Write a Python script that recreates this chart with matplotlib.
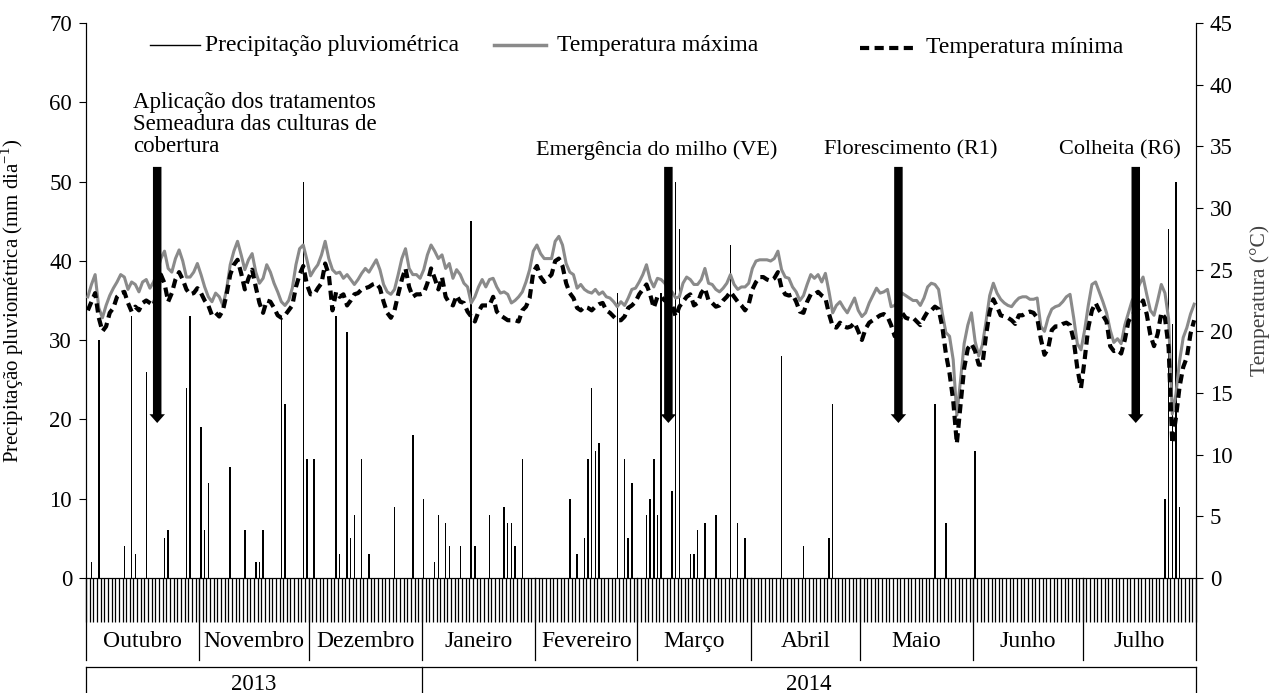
import numpy as np
import matplotlib.pyplot as plt
import matplotlib.transforms as mtransforms

plt.rcParams['font.family'] = ['Liberation Serif', 'DejaVu Serif']
plt.rcParams['mathtext.fontset'] = 'custom'
plt.rcParams['mathtext.rm'] = 'Liberation Serif'

# periodo: 01/10/2013 a 31/07/2014 (dia 0 = 01/10/2013)
meses = ['Outubro', 'Novembro', 'Dezembro', 'Janeiro', 'Fevereiro',
         'Março', 'Abril', 'Maio', 'Junho', 'Julho']
dias_mes = [31, 30, 31, 31, 28, 31, 30, 31, 30, 31]
anos = ['2013', '2014']
meses_por_ano = [3, 7]

# precipitacao (mm dia-1), somente dias com chuva
chuva_dia = [1, 3, 10, 12, 13, 16, 21, 22, 27, 28, 31, 32, 33, 39, 43, 46, 47, 48,
             53, 54, 59, 60, 62, 68, 69, 71, 72, 73, 75, 77, 84, 89, 92, 95, 96,
             98, 99, 102, 105, 106, 110, 114, 115, 116, 117, 119, 132, 134, 136,
             137, 138, 139, 140, 145, 147, 148, 149, 153, 154, 155, 156, 157, 160,
             161, 162, 165, 166, 167, 169, 172, 176, 178, 180, 190, 196, 203, 204,
             232, 235, 243, 295, 296, 297, 298, 299]
chuva_mm = [2, 30, 4, 33, 3, 26, 5, 6, 24, 33, 19, 6, 12, 14, 6, 2, 2, 6,
            33, 22, 50, 15, 15, 33, 3, 31, 5, 8, 15, 3, 9, 18, 10, 2, 8,
            7, 4, 4, 45, 4, 8, 9, 7, 7, 4, 15, 10, 3, 5,
            15, 24, 16, 17, 36, 15, 5, 12, 8, 10, 15, 8, 36, 11,
            50, 44, 3, 3, 6, 7, 8, 42, 7, 5, 28, 4, 5, 22,
            22, 7, 16, 10, 44, 32, 50, 9]

# temperatura maxima diaria (°C)
tmax = [22.8, 23.8, 24.6, 21.9, 21.1, 22.1, 22.9, 23.5, 24.0, 24.6,
        24.4, 23.4, 24.0, 23.8, 23.2, 24.0, 24.2, 23.5, 24.0, 24.8,
        25.9, 26.5, 25.1, 24.8, 25.9, 26.6, 25.7, 24.4, 24.4, 24.8,
        25.5, 24.6, 23.6, 22.8, 22.4, 23.1, 22.8, 22.1, 23.4, 25.4,
        26.5, 27.3, 26.2, 25.0, 25.8, 26.3, 24.8, 23.9, 24.3, 25.4,
        24.8, 23.9, 23.2, 22.4, 22.1, 22.5, 23.5, 25.4, 26.7, 27.0,
        25.8, 24.5, 25.0, 25.4, 26.2, 27.3, 25.9, 25.0, 24.7, 24.8,
        24.3, 24.6, 24.2, 23.8, 24.2, 24.7, 25.1, 24.8, 25.3, 25.8,
        25.0, 23.8, 23.2, 23.0, 23.4, 24.6, 25.9, 26.7, 25.1, 24.6,
        24.6, 24.3, 25.0, 26.2, 27.0, 26.5, 25.9, 26.2, 25.1, 25.5,
        24.3, 25.0, 24.6, 23.9, 23.6, 22.3, 22.8, 23.6, 24.2, 23.6,
        24.2, 24.3, 23.6, 23.1, 23.2, 23.0, 22.3, 22.5, 22.8, 23.2,
        24.0, 25.0, 26.5, 27.0, 26.3, 25.9, 25.9, 25.9, 27.3, 27.7,
        27.0, 25.5, 24.8, 24.6, 23.5, 23.8, 23.4, 23.2, 23.1, 23.4,
        23.0, 23.2, 22.8, 22.7, 22.4, 22.0, 22.4, 22.1, 22.7, 23.4,
        23.5, 24.0, 24.6, 25.4, 24.2, 23.6, 24.3, 24.2, 23.9, 23.4,
        23.2, 22.7, 22.8, 23.9, 24.4, 24.2, 23.8, 23.8, 24.2, 25.1,
        23.9, 23.8, 23.4, 23.2, 23.5, 23.9, 24.6, 23.8, 23.4, 23.6,
        23.6, 23.9, 25.1, 25.7, 25.8, 25.8, 25.8, 25.7, 25.9, 26.5,
        25.0, 24.4, 24.3, 23.6, 23.2, 22.5, 22.9, 23.8, 24.6, 24.3,
        24.6, 24.0, 24.7, 23.2, 21.5, 22.1, 22.4, 21.9, 21.5, 22.1,
        22.7, 21.7, 21.2, 21.5, 22.3, 22.9, 23.5, 23.1, 23.2, 23.4,
        22.0, 22.1, 22.5, 23.1, 22.9, 22.7, 22.5, 22.5, 22.1, 22.7,
        23.6, 23.9, 23.8, 23.4, 21.5, 19.9, 19.6, 17.7, 13.2, 16.0,
        19.0, 20.5, 21.5, 19.2, 18.0, 18.9, 20.8, 22.9, 23.9, 23.1,
        22.6, 22.3, 22.1, 22.0, 22.4, 22.7, 22.8, 22.8, 22.6, 22.6,
        22.7, 20.4, 20.0, 21.1, 21.8, 22.0, 22.1, 22.4, 22.8, 23.0,
        21.1, 19.0, 18.5, 20.1, 22.1, 23.8, 24.0, 23.2, 22.4, 21.5,
        20.1, 19.1, 19.4, 19.0, 20.5, 21.5, 22.5, 23.0, 23.8, 24.4,
        23.0, 21.7, 21.3, 22.5, 23.8, 23.1, 21.0, 13.3, 14.9, 17.6,
        19.5, 20.3, 21.4, 22.2]

# temperatura minima diaria (°C)
tmin = [21.7, 22.4, 23.1, 21.1, 20.0, 20.4, 21.5, 21.9, 22.8, 23.1,
        23.2, 22.3, 21.6, 22.0, 21.7, 22.3, 22.5, 22.3, 22.1, 23.2,
        24.6, 23.9, 22.4, 23.1, 24.2, 24.8, 24.2, 23.4, 23.0, 23.1,
        23.5, 23.1, 22.5, 22.1, 21.3, 21.5, 21.2, 21.7, 23.0, 24.6,
        25.4, 25.8, 24.7, 23.4, 24.3, 25.0, 23.6, 22.3, 21.5, 22.5,
        22.4, 21.9, 21.3, 21.1, 21.3, 21.7, 22.1, 23.6, 24.6, 25.3,
        23.8, 23.0, 23.0, 23.5, 23.9, 25.5, 24.6, 21.7, 23.2, 22.8,
        23.0, 22.1, 22.5, 23.0, 23.1, 23.4, 23.5, 23.6, 23.8, 23.9,
        23.5, 22.4, 21.5, 21.1, 21.7, 23.0, 24.2, 25.1, 23.6, 22.8,
        23.0, 23.0, 23.1, 23.9, 25.1, 24.3, 23.4, 24.4, 22.8, 22.3,
        22.1, 22.9, 22.4, 22.3, 21.6, 21.2, 20.8, 21.6, 22.1, 22.1,
        22.1, 22.8, 21.6, 21.3, 21.1, 20.9, 20.9, 20.9, 20.8, 21.7,
        22.0, 22.7, 24.8, 25.3, 24.4, 24.0, 24.3, 24.6, 25.7, 25.9,
        25.3, 23.9, 23.1, 22.7, 21.9, 21.7, 22.0, 21.9, 21.7, 22.0,
        22.2, 22.3, 21.7, 21.5, 21.2, 20.9, 20.9, 21.2, 21.9, 22.1,
        22.4, 23.0, 23.4, 23.8, 23.0, 21.9, 22.8, 22.8, 22.5, 22.4,
        22.1, 21.2, 22.0, 22.4, 22.8, 23.0, 22.1, 22.3, 23.1, 23.5,
        22.5, 22.3, 22.0, 22.1, 22.5, 22.8, 23.2, 22.8, 22.4, 22.1,
        21.7, 22.2, 23.4, 24.0, 24.4, 24.4, 24.2, 24.1, 24.3, 24.8,
        23.5, 23.0, 22.9, 23.0, 22.4, 21.6, 21.5, 22.4, 23.0, 23.0,
        23.2, 22.9, 22.7, 21.4, 20.4, 20.3, 20.7, 20.4, 20.3, 20.4,
        20.7, 20.0, 19.3, 20.2, 20.7, 20.9, 21.1, 21.3, 21.4, 21.2,
        20.5, 19.6, 20.5, 21.5, 21.1, 21.0, 21.1, 20.8, 20.5, 21.1,
        21.6, 21.7, 22.0, 21.8, 20.4, 18.2, 16.6, 14.4, 10.9, 14.0,
        17.0, 18.6, 19.0, 18.4, 17.3, 17.3, 19.7, 21.6, 22.6, 22.0,
        21.3, 21.2, 21.1, 20.9, 20.6, 21.3, 21.3, 21.5, 21.6, 21.5,
        21.1, 19.4, 18.1, 18.6, 20.1, 20.4, 20.4, 20.6, 20.7, 20.5,
        19.3, 17.0, 15.4, 17.7, 20.3, 21.7, 22.3, 21.7, 21.3, 20.8,
        18.8, 18.4, 18.5, 18.2, 19.3, 20.8, 21.3, 21.6, 21.9, 22.5,
        21.4, 19.7, 18.8, 19.8, 21.5, 21.1, 18.7, 10.9, 13.0, 15.5,
        17.1, 17.9, 19.8, 20.9]

# eventos (dia em que ocorreram)
eventos = ['Aplicação dos tratamentos\nSemeadura das culturas de\ncobertura',
           'Emergência do milho (VE)', 'Florescimento (R1)', 'Colheita (R6)']
eventos_dia = [19, 159, 222, 287]

n_dias = sum(dias_mes)
dias = np.arange(n_dias)

fig = plt.figure(figsize=(12.74, 6.93), dpi=100)
ax = fig.add_axes([86 / 1274, 1 - 578 / 693, 1110 / 1274, 555 / 693])
ax2 = ax.twinx()

# precipitacao
ax.bar(chuva_dia, chuva_mm, width=0.4, color='black', linewidth=0, zorder=2)
ax.set_xlim(-0.5, n_dias - 0.5)
ax.set_ylim(0, 70)
ax.set_yticks(range(0, 71, 10))

# temperaturas
ax2.plot(dias, tmax, color='#8a8a8a', lw=2.2, zorder=3)
ax2.plot(dias, tmin, color='black', lw=3.0, ls=(0, (2.2, 1.3)), zorder=4)
ax2.set_ylim(0, 45)
ax2.set_yticks(range(0, 46, 5))

for a in (ax, ax2):
    a.spines['top'].set_visible(False)
    a.tick_params(axis='y', labelsize=16.5, length=5, width=0.8, pad=5, direction='out')

# um traço por dia no eixo x
ax.set_xticks(np.arange(n_dias + 1) - 0.5)
ax.tick_params(axis='x', length=32, width=0.9, labelbottom=False)

ax.set_ylabel('Precipitação pluviométrica (mm dia$^{\\mathregular{-1}}$)', fontsize=15)
ax.yaxis.set_label_coords(-0.054, 0.5)
ax2.set_ylabel('Temperatura (°C)', fontsize=15.5, color='#404040')
ax2.yaxis.set_label_coords(1.049, 0.5)

# meses e anos abaixo do eixo
trans = mtransforms.blended_transform_factory(ax.transData, ax.transAxes)
limites = np.concatenate([[0], np.cumsum(dias_mes)]) - 0.5
for b in limites:
    ax.plot([b, b], [0, -0.148], transform=trans, color='black', lw=0.9, clip_on=False)
for i, m in enumerate(meses):
    ax.text((limites[i] + limites[i + 1]) / 2, -0.115, m, transform=trans,
            ha='center', va='center', fontsize=17)

ax.plot([limites[0], limites[-1]], [-0.160, -0.160], transform=trans,
        color='black', lw=0.9, clip_on=False)
lim_ano = limites[np.concatenate([[0], np.cumsum(meses_por_ano)])]
for b in lim_ano:
    ax.plot([b, b], [-0.160, -0.3], transform=trans, color='black', lw=0.9, clip_on=False)
for i, ano in enumerate(anos):
    ax.text((lim_ano[i] + lim_ano[i + 1]) / 2, -0.192, ano, transform=trans,
            ha='center', va='center', fontsize=16.5)

# setas dos eventos
for d in eventos_dia:
    ax2.annotate('', xy=(d, 19.2), xytext=(d, 52.2),
                 xycoords=ax.transData, textcoords=ax.transData,
                 arrowprops=dict(arrowstyle='simple,head_width=0.62,head_length=0.35,tail_width=0.34',
                                 fc='black', ec='black', lw=0, mutation_scale=18),
                 zorder=6)

ax2.text(12.5, 61.3, eventos[0], transform=ax.transData, ha='left', va='top',
         fontsize=16.5, linespacing=1.05, zorder=7)
for txt, x in zip(eventos[1:], [155.8, 225.4, 282.7]):
    ax2.text(x, 54.0, txt, transform=ax.transData, ha='center', va='center',
             fontsize=16, zorder=7)

# legenda
ly = 0.96
ax.plot([0.058, 0.103], [ly, ly], transform=ax.transAxes, color='black', lw=1.0, clip_on=False)
ax.text(0.107, ly, 'Precipitação pluviométrica', transform=ax.transAxes, va='center', fontsize=17)
ax.plot([0.368, 0.414], [ly, ly], transform=ax.transAxes, color='#8a8a8a', lw=2.5, clip_on=False)
ax.text(0.424, ly, 'Temperatura máxima', transform=ax.transAxes, va='center', fontsize=17)
ax.plot([0.697, 0.747], [ly - 0.005, ly - 0.005], transform=ax.transAxes, color='black', lw=3.0,
        ls=(0, (2.2, 1.3)), clip_on=False)
ax.text(0.757, ly - 0.005, 'Temperatura mínima', transform=ax.transAxes, va='center', fontsize=17)

fig.savefig('out.png', dpi=100)
